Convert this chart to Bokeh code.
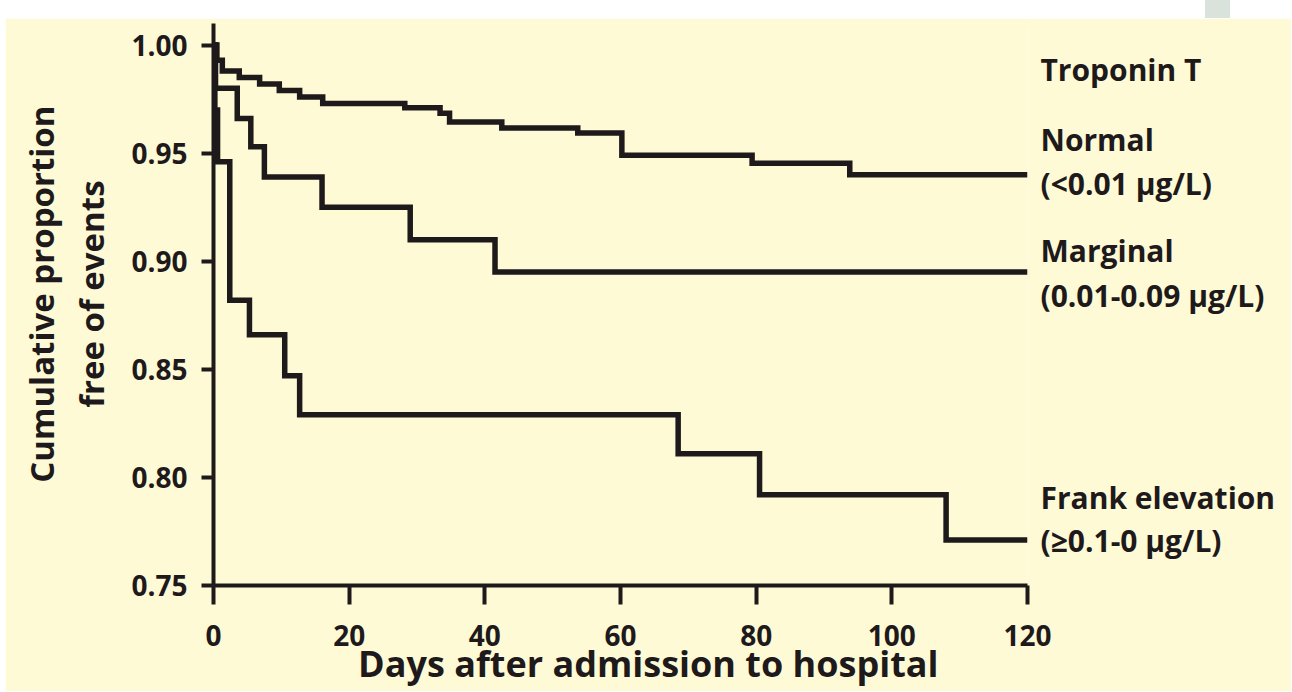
from bokeh.plotting import figure
from bokeh.models import FixedTicker, LinearAxis, Spacer, NumeralTickFormatter
from bokeh.layouts import column, row
from bokeh.embed import file_html
from bokeh.resources import INLINE

# ---- data ----
days_normal = [0, 0.5, 1.3, 3.8, 6.8, 9.7, 12.7, 16.1, 28.2, 33.4, 34.8, 42.5, 53.7, 60.2, 79.4, 93.8, 120]
surv_normal = [1.0, 0.993, 0.988, 0.985, 0.982, 0.979, 0.976, 0.973, 0.971, 0.9685, 0.9644, 0.9616, 0.9593, 0.949, 0.9454, 0.940, 0.940]

days_marginal = [0, 0.3, 3.5, 5.5, 7.5, 16.0, 29.0, 41.5, 120]
surv_marginal = [1.0, 0.980, 0.966, 0.953, 0.939, 0.925, 0.910, 0.895, 0.895]

days_frank = [0, 0.2, 0.6, 2.4, 5.3, 10.5, 12.7, 68.5, 80.5, 108.0, 120]
surv_frank = [1.0, 0.970, 0.946, 0.882, 0.866, 0.847, 0.829, 0.811, 0.792, 0.771, 0.771]

x_ticks = [0, 20, 40, 60, 80, 100, 120]
y_ticks = [0.75, 0.80, 0.85, 0.90, 0.95, 1.00]

legend_texts = ["Troponin T",
                "Normal", "(<0.01 µg/L)",
                "Marginal", "(0.01-0.09 µg/L)",
                "Frank elevation", "(≥0.1-0 µg/L)"]
legend_y = [0.9885, 0.9563, 0.9362, 0.9050, 0.8842, 0.7905, 0.7708]

x_title = "Days after admission to hospital"
x_title_at = 64.1
y_title = ["Cumulative proportion", "free of events"]
y_title_at = 0.8848

# ---- style ----
BG = "#FFFAD6"
INK = "#1E1A1B"
FONT = "Open Sans"

p = figure(frame_width=814, frame_height=562, x_range=(0, 120), y_range=(0.75, 1.01),
           output_backend="svg", toolbar_location=None,
           min_border_left=208, min_border_right=264,
           min_border_top=5, min_border_bottom=106)
p.background_fill_color = BG
p.border_fill_color = BG
p.outline_line_color = None
p.grid.visible = False

for days, surv in [(days_normal, surv_normal), (days_marginal, surv_marginal), (days_frank, surv_frank)]:
    p.step(days, surv, mode="after", line_width=5.5, line_color=INK, line_join="miter")

for ax in (p.xaxis[0], p.yaxis[0]):
    ax.axis_line_width = 4
    ax.axis_line_color = INK
    ax.major_tick_line_width = 4
    ax.major_tick_line_color = INK
    ax.minor_tick_line_color = None
    ax.major_tick_in = 0
    ax.major_label_text_font = FONT
    ax.major_label_text_font_style = "bold"
    ax.major_label_text_font_size = "28px"
    ax.major_label_text_color = INK

p.xaxis[0].ticker = FixedTicker(ticks=x_ticks)
p.xaxis[0].major_tick_out = 19
p.xaxis[0].major_label_standoff = 20

p.yaxis[0].ticker = FixedTicker(ticks=y_ticks)
p.yaxis[0].formatter = NumeralTickFormatter(format="0.00")
p.yaxis[0].major_tick_out = 12
p.yaxis[0].major_label_standoff = 14


def text_axis(ticks, texts, size, standoff, orientation="horizontal"):
    ax = LinearAxis(ticker=FixedTicker(ticks=ticks),
                    major_label_overrides={t: s for t, s in zip(ticks, texts)},
                    axis_line_color=None, major_tick_line_color=None,
                    minor_tick_line_color=None, major_tick_in=0, major_tick_out=0,
                    major_label_standoff=standoff,
                    major_label_orientation=orientation,
                    major_label_text_font=FONT, major_label_text_font_style="bold",
                    major_label_text_font_size=size, major_label_text_color=INK)
    return ax


# right-hand group labels
p.add_layout(text_axis(legend_y, legend_texts, "30px", 13), "right")
# x title
p.add_layout(text_axis([x_title_at], [x_title], "36px", -10), "below")
# y title (two lines, inner first)
p.add_layout(text_axis([y_title_at], [y_title[1]], "33px", 14, "vertical"), "left")
p.add_layout(text_axis([y_title_at], [y_title[0]], "33px", 2, "vertical"), "left")

top_band = row(Spacer(width=1205, height=18),
               Spacer(width=25, height=18, styles={"background-color": "#D9E3DC"}))
layout = column(top_band, row(Spacer(width=5, height=10), p))
open("out.html", "w").write(file_html(layout, INLINE))
